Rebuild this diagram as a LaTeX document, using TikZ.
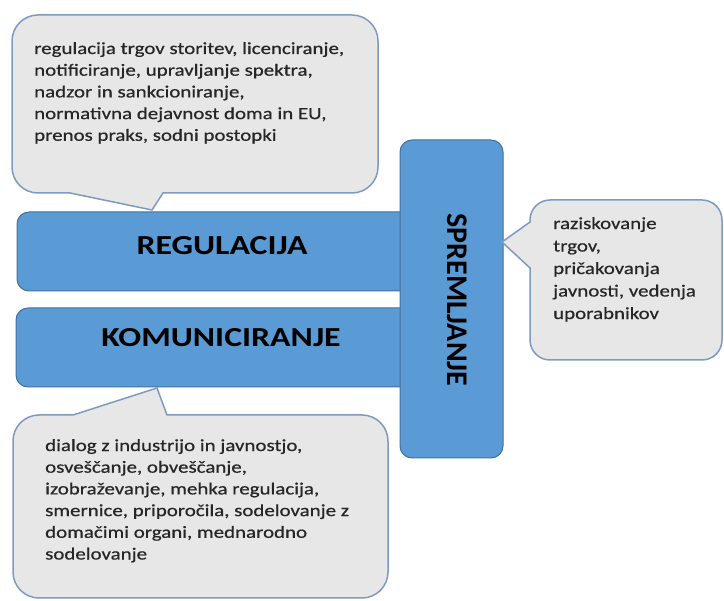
\documentclass[tikz,border=0pt]{standalone}
\usepackage{fontspec}
\setmainfont{Carlito}[FakeStretch=1.23]
\newfontfamily\upright{Carlito}
\newfontfamily\notefont{Carlito}[FakeStretch=1.23,FakeBold=0.6]
\definecolor{barblue}{RGB}{91,155,213}
\definecolor{barline}{RGB}{65,113,156}
\definecolor{notefill}{RGB}{231,231,231}
\definecolor{noteline}{RGB}{125,155,190}

\begin{document}
\begin{tikzpicture}[x=1pt,y=-1pt,
  bar/.style={fill=barblue,draw=barline,line width=1pt,rounded corners=12},
  note/.style={fill=notefill,draw=noteline,line width=1.5pt},
  head/.style={font=\fontsize{27.5}{30}\selectfont\bfseries,inner sep=0},
  notetext/.style={font=\notefont\fontsize{17}{21.7}\selectfont,align=left,anchor=north west,inner sep=0,text=black!85}]
\useasboundingbox (0,0) rectangle (724,601);
% bars
\draw[bar] (17,212) rectangle (430,291);
\draw[bar] (16,308) rectangle (430,387);
\draw[bar] (400,140) rectangle (503,458);
\node[head] (reg) at (222,246) {REGULACIJA};
\node[head] (kom) at (221,338) {KOMUNICIRANJE};
\node[head,font=\upright\fontsize{30}{32}\selectfont\bfseries,rotate=-90] (spr) at (457,300) {SPREMLJANJE};
% callouts
\draw[note,rounded corners=26] (378,100) -- (378,15) -- (12,15) -- (12,193) [sharp corners] -- (70,193) -- (152,210) -- (163,193) [rounded corners=26] -- (378,193) -- cycle;
\draw[note,rounded corners=20] (626,200) -- (530,200) [sharp corners] -- (530,222) -- (502,242) -- (530,268) [rounded corners=20] -- (530,360) -- (722,360) -- (722,200) -- cycle;
\draw[note,rounded corners=26] (388,500) -- (388,415) [sharp corners] -- (167,415) -- (157,388) -- (73,415) [rounded corners=26] -- (13,415) -- (13,598) -- (388,598) -- cycle;
\node[notetext] (regnote) at (34,42) {regulacija trgov storitev, licenciranje,\\ notificiranje, upravljanje spektra,\\ nadzor in sankcioniranje,\\ normativna dejavnost doma in EU,\\ prenos praks, sodni postopki};
\node[notetext,font=\notefont\fontsize{17}{22.5}\selectfont] (sprnote) at (553,217) {raziskovanje\\ trgov,\\ pričakovanja\\ javnosti, vedenja\\ uporabnikov};
\node[notetext] (komnote) at (45,439) {dialog z industrijo in javnostjo,\\ osveščanje, obveščanje,\\ izobraževanje, mehka regulacija,\\ smernice, priporočila, sodelovanje z\\ domačimi organi, mednarodno\\ sodelovanje};
\end{tikzpicture}
\end{document}
